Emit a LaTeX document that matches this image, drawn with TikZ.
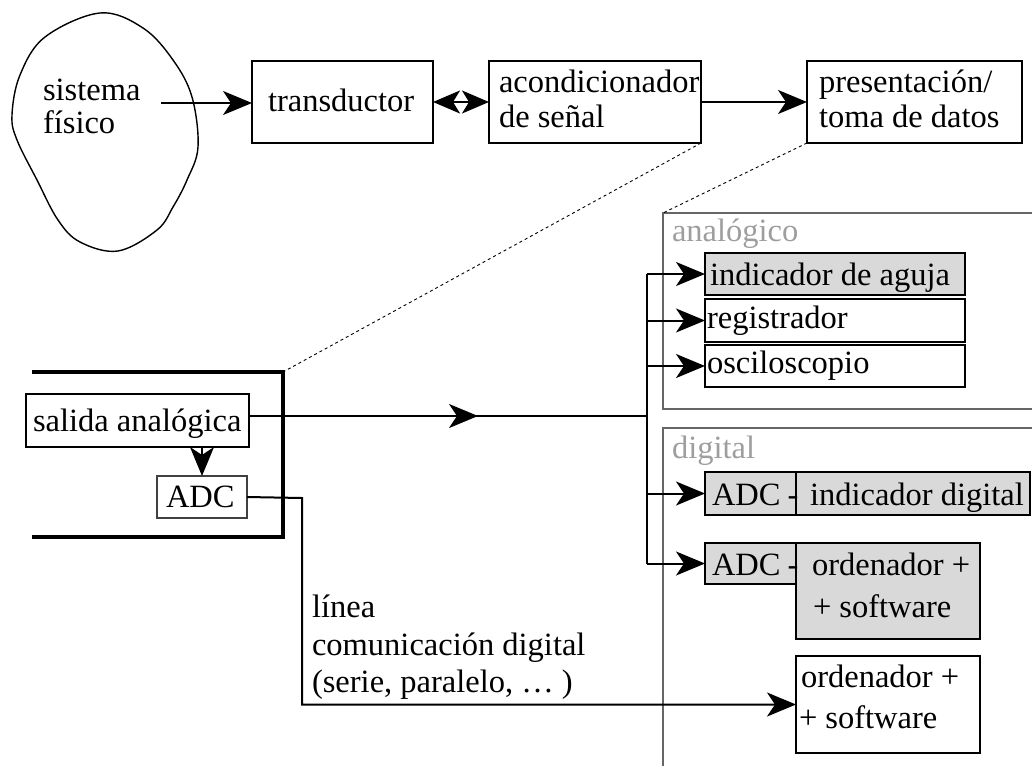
\documentclass[tikz,border=0pt]{standalone}
\usepackage{fontspec}
\setmainfont{Liberation Serif}
\usetikzlibrary{arrows.meta}
\newcommand\boxat[6]{%
  \node[#6, minimum width={(#4-#2)*1pt}, minimum height={(#5-#3)*1pt}] (#1) at ({(#2+#4)/2},{(#3+#5)/2}) {};}
\begin{document}
\begin{tikzpicture}[x=1pt,y=-1pt,
  txt/.style={font=\fontsize{32.5pt}{34pt}\selectfont, inner sep=0pt, outer sep=0pt, anchor=base west},
  graytxt/.style={txt, text=black!38},
  box/.style={draw, line width=2pt, inner sep=0pt, outer sep=0pt},
  graybox/.style={box, fill=black!15},
  thinbox/.style={draw=black!75, line width=1.1pt, inner sep=0pt, outer sep=0pt},
  conn/.style={line width=2pt},
  arr/.style={conn, -{Stealth[length=29pt, width=24pt, inset=8pt]}},
  darr/.style={conn, {Stealth[length=27pt, width=23pt, inset=7pt]}-{Stealth[length=27pt, width=23pt, inset=7pt]}},
  panel/.style={draw=black!60, line width=1.4pt},
  dotted line/.style={line width=0.9pt, dash pattern=on 3pt off 3pt},
]
\useasboundingbox (0,0) rectangle (1032,765);

% physical system blob
\draw[line width=1.4pt] plot[smooth cycle, tension=0.6] coordinates {
  (100,13) (143,28) (173,60) (192,97) (198,147) (187,180) (173,207) (157,230)
  (118,251) (80,242) (58,220) (37,180) (17,140) (12,115) (20,75) (45,37)};
\node[txt] (t-sis1) at (43,100) {sistema};
\node[txt] (t-sis2) at (43,133) {físico};
\coordinate (s0) at (161,103);

% top chain
\boxat{tr}{252}{61}{433}{143}{box}
\node[txt] (t-tr) at (268,112) {transductor};
\boxat{ac}{489}{61}{701}{143}{box}
\node[txt] (t-ac1) at (499,93) {acondicionador};
\node[txt] (t-ac2) at (499,127) {de señal};
\boxat{pr}{807}{61}{1022}{143}{box}
\node[txt] (t-pr1) at (819,93) {presentación/};
\node[txt] (t-pr2) at (819,127) {toma de datos};

\draw[arr] (s0) -- (s0 -| tr.west);
\draw[darr] (tr.east) -- (ac.west);
\draw[arr] (ac.east) -- (pr.west);

% left bracket (instrument)
\coordinate (b1) at (32,372);
\coordinate (b2) at (283,372);
\coordinate (b3) at (283,537);
\coordinate (b4) at (32,537);
\draw[line width=3.5pt] (b1) -- (b2) -- (b3) -- (b4);

\boxat{sa}{26}{394}{249}{447}{box}
\node[txt] (t-sa) at (33,431) {salida analógica};
\boxat{adc}{157}{476}{247}{518}{thinbox}
\node[txt] (t-adc) at (166,507) {ADC};
\draw[arr] (adc.north |- sa.south) -- (adc.north);

% panels
\coordinate (anNW) at (663,213);
\draw[panel] (1040,213) -- (anNW) -- (663,409) -- (1040,409);
\node[graytxt] (t-an) at (672,241) {analógico};
\draw[panel] (1040,428) -- (663,428) -- (663,780);
\node[graytxt] (t-dg) at (672,458) {digital};

% analog devices
\boxat{ia}{705}{253}{965}{295}{graybox}
\node[txt] (t-ia) at (710,285) {indicador de aguja};
\boxat{rg}{705}{299}{965}{342}{box}
\node[txt] (t-rg) at (707,328) {registrador};
\boxat{os}{705}{345}{965}{387}{box}
\node[txt] (t-os) at (707,373) {osciloscopio};

% digital devices
\boxat{a1}{705}{472}{796}{515}{graybox}
\boxat{i1}{796}{472}{1030}{515}{graybox}
\node[txt] (t-a1) at (712,505) {ADC};
\node[txt, anchor=base] (t-h1) at (793,505) {-};
\node[txt] (t-i1) at (810,505) {indicador digital};

\boxat{o2}{796}{543}{980}{639}{graybox}
\boxat{a2}{705}{543}{796}{584}{graybox}
\node[txt] (t-a2) at (712,575) {ADC};
\node[txt, anchor=base] (t-h2) at (793,575) {-};
\node[txt] (t-o2a) at (812,575) {ordenador +};
\node[txt] (t-o2b) at (813,617) {+ software};

\boxat{o3}{796}{656}{980}{753}{box}
\node[txt] (t-o3a) at (801,687) {ordenador +};
\node[txt] (t-o3b) at (799,728) {+ software};

% analog output distribution
\coordinate (j) at (647,416);
\coordinate (mid) at (478,416);
\draw[conn] (sa.east |- j) -- (j);
\draw[arr] (sa.east |- j) -- (mid);
\draw[conn] (ia.west -| j) -- (a2.west -| j);
\draw[arr] (ia.west -| j) -- (ia.west);
\draw[arr] (rg.west -| j) -- (rg.west);
\draw[arr] (os.west -| j) -- (os.west);
\draw[arr] (a1.west -| j) -- (a1.west);
\draw[arr] (a2.west -| j) -- (a2.west);

% digital communication line
\coordinate (k) at (302,498);
\draw[arr] (adc.east) -- (k) -- (k |- o3.west) -- (o3.west);
\node[txt] (t-l1) at (312,617) {línea};
\node[txt] (t-l2) at (312,655) {comunicación digital};
\node[txt] (t-l3) at (312,692) {(serie, paralelo, … )};

% zoom (dotted) lines
\draw[dotted line] (ac.south east) -- (b2);
\draw[dotted line] (pr.south west) -- (anNW);
\end{tikzpicture}
\end{document}
